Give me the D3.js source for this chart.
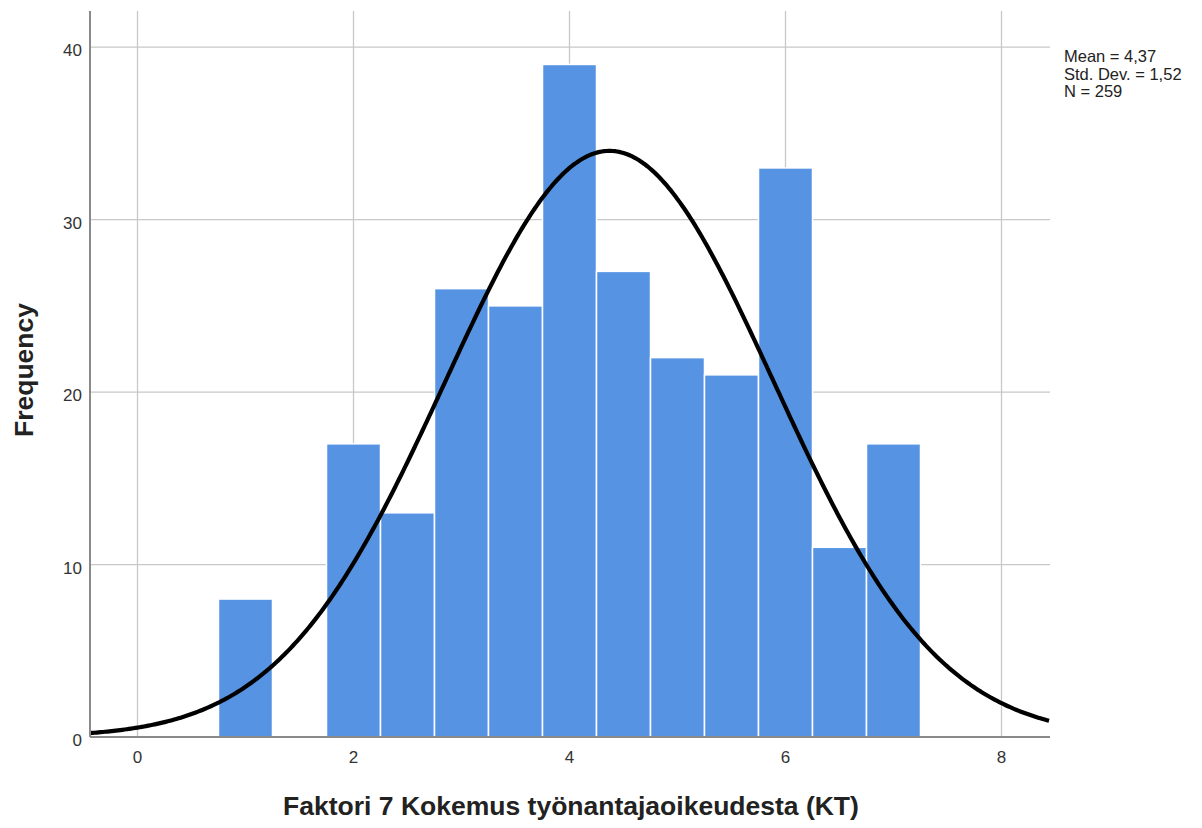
<!DOCTYPE html>
<html>
<head>
<meta charset="utf-8">
<script src="https://cdn.jsdelivr.net/npm/d3@7"></script>
<style>
  html, body { margin: 0; padding: 0; background: #fff; }
  svg { display: block; font-family: "Liberation Sans", Arial, sans-serif; }
</style>
</head>
<body>
<svg id="chart" width="1202" height="828"></svg>
<script>
// Histogram bins (centres, bin width 0.5) and their counts
const binCenters = [1, 2, 2.5, 3, 3.5, 4, 4.5, 5, 5.5, 6, 6.5, 7];
const binCounts  = [8, 17, 13, 26, 25, 39, 27, 22, 21, 33, 11, 17];
const binWidth = 0.5;

// Summary statistics
const mean = 4.37;
const stdDev = 1.52;
const n = 259;
const statLines = ["Mean = 4,37", "Std. Dev. = 1,52", "N = 259"];

const xTicks = [0, 2, 4, 6, 8];
const yTicks = [0, 10, 20, 30, 40];

const xTitle = "Faktori 7 Kokemus työnantajaoikeudesta (KT)";
const yTitle = "Frequency";

const svg = d3.select("#chart");
const plotLeft = 90, plotRight = 1050, plotTop = 11, plotBottom = 737;

const x = d3.scaleLinear().domain([-0.4398, 8.449]).range([plotLeft, plotRight]);
const y = d3.scaleLinear().domain([0, 42.1]).range([plotBottom, plotTop]);

// Grid lines
const grid = svg.append("g");
grid.selectAll("line.gx").data(xTicks).join("line")
  .attr("class", "gx")
  .attr("x1", d => x(d)).attr("x2", d => x(d))
  .attr("y1", plotTop).attr("y2", plotBottom)
  .attr("stroke", "#c8c8c8").attr("stroke-width", 1.3);
grid.selectAll("line.gy").data(yTicks.filter(d => d > 0)).join("line")
  .attr("class", "gy")
  .attr("x1", plotLeft).attr("x2", plotRight)
  .attr("y1", d => y(d)).attr("y2", d => y(d))
  .attr("stroke", "#c8c8c8").attr("stroke-width", 1.3);

// Bars
svg.append("g").selectAll("rect").data(binCenters).join("rect")
  .attr("x", d => x(d - binWidth / 2))
  .attr("width", d => x(d + binWidth / 2) - x(d - binWidth / 2))
  .attr("y", (d, i) => y(binCounts[i]))
  .attr("height", (d, i) => y(0) - y(binCounts[i]))
  .attr("fill", "#5694e3")
  .attr("stroke", "#ffffff")
  .attr("stroke-width", 1.5);

// Normal curve scaled to the histogram
const pdf = v => Math.exp(-0.5 * ((v - mean) / stdDev) ** 2) / (stdDev * Math.sqrt(2 * Math.PI));
const curveX = d3.range(x.domain()[0], x.domain()[1] + 0.001, 0.02);
svg.append("path")
  .datum(curveX)
  .attr("d", d3.line().x(v => x(v)).y(v => y(n * binWidth * pdf(v))))
  .attr("fill", "none")
  .attr("stroke", "#000")
  .attr("stroke-width", 4.2);

// Axis lines
svg.append("line")
  .attr("x1", plotLeft).attr("x2", plotLeft).attr("y1", plotTop).attr("y2", plotBottom)
  .attr("stroke", "#8a8a8a").attr("stroke-width", 2);
svg.append("line")
  .attr("x1", plotLeft).attr("x2", plotRight).attr("y1", plotBottom).attr("y2", plotBottom)
  .attr("stroke", "#8a8a8a").attr("stroke-width", 2);

// Tick labels
svg.append("g").selectAll("text").data(xTicks).join("text")
  .attr("x", d => x(d)).attr("y", 763)
  .attr("text-anchor", "middle")
  .attr("font-size", 17).attr("fill", "#333")
  .text(d => d);
svg.append("g").selectAll("text").data(yTicks).join("text")
  .attr("x", 82).attr("y", d => y(d) + 9)
  .attr("text-anchor", "end")
  .attr("font-size", 17).attr("fill", "#333")
  .text(d => d);

// Axis titles
svg.append("text")
  .attr("x", 571).attr("y", 815)
  .attr("text-anchor", "middle")
  .attr("font-size", 26.5).attr("font-weight", "bold").attr("fill", "#222")
  .text(xTitle);
svg.append("text")
  .attr("transform", "translate(33,370) rotate(-90)")
  .attr("text-anchor", "middle")
  .attr("font-size", 26.5).attr("font-weight", "bold").attr("fill", "#222")
  .text(yTitle);

// Statistics box
svg.append("g").selectAll("text").data(statLines).join("text")
  .attr("x", 1064).attr("y", (d, i) => 62 + i * 17.5)
  .attr("font-size", 16.5).attr("fill", "#222")
  .text(d => d);
</script>
</body>
</html>
